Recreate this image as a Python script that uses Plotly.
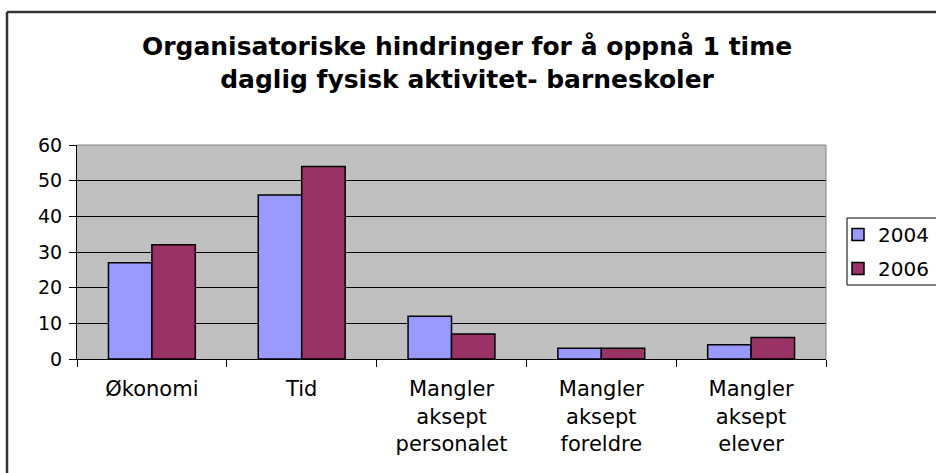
import plotly.graph_objects as go

categories = ["Økonomi", "Tid", "Mangler<br>aksept<br>personalet", "Mangler<br>aksept<br>foreldre", "Mangler<br>aksept<br>elever"]
values_2004 = [27, 46, 12, 3, 4]
values_2006 = [32, 54, 7, 3, 6]
series_names = ["2004", "2006"]
y_ticks = [0, 10, 20, 30, 40, 50, 60]

W, H = 936, 473
L, R, T, B = 77, 826, 145, 359
pw, ph = R - L, B - T

def px(x):
    return (x - L) / pw

def py(y):
    return (B - y) / ph

font = "DejaVu Sans, Liberation Sans, Arial, sans-serif"

fig = go.Figure()
fig.add_trace(go.Bar(x=categories, y=values_2004, name=series_names[0], legendgroup="a",
                     marker=dict(color="#9999FF", line=dict(color="black", width=1.5))))
fig.add_trace(go.Bar(x=categories, y=values_2006, name=series_names[1], legendgroup="b",
                     marker=dict(color="#993366", line=dict(color="black", width=1.5))))

fig.update_layout(
    width=W, height=H,
    margin=dict(l=L, r=W - R, t=T, b=H - B, pad=0, autoexpand=False),
    paper_bgcolor="white",
    plot_bgcolor="#C0C0C0",
    font=dict(family=font, color="black", size=19),
    bargap=0.42, bargroupgap=0,
    title=dict(
        text="<b>Organisatoriske hindringer for å oppnå 1 time<br>daglig fysisk aktivitet- barneskoler</b>",
        x=0.499, xanchor="center", xref="container",
        y=1 - 55 / H, yanchor="top", yref="container",
        font=dict(family=font, size=25, color="black"),
    ),
    legend=dict(
        x=px(838), xanchor="left", y=py(215), yanchor="top",
        font=dict(family=font, size=20, color="black"),
        bgcolor="rgba(0,0,0,0)", borderwidth=0,
        tracegroupgap=5, traceorder="grouped",
    ),
    xaxis=dict(
        showgrid=False, showline=True, linecolor="black", linewidth=1,
        ticks="outside", ticklen=7, tickcolor="black", tickson="boundaries",
        tickfont=dict(size=21), ticklabelstandoff=11, mirror=False,
    ),
    yaxis=dict(
        range=[0, 60], tickvals=y_ticks, showgrid=True, gridcolor="black", gridwidth=1,
        showline=True, linecolor="black", linewidth=1,
        ticks="outside", ticklen=7, tickcolor="black", tickfont=dict(size=19),
        ticklabelstandoff=3, zeroline=False,
    ),
    shapes=[
        dict(type="line", xref="paper", yref="paper", x0=1, x1=1, y0=0, y1=1,
             line=dict(color="#808080", width=1)),
        dict(type="line", xref="paper", yref="paper", x0=0, x1=1, y0=1, y1=1,
             line=dict(color="#808080", width=1)),
        dict(type="line", xref="paper", yref="paper", x0=px(7), x1=px(W + 5), y0=py(12), y1=py(12),
             line=dict(color="#333333", width=2.5)),
        dict(type="line", xref="paper", yref="paper", x0=px(7), x1=px(7), y0=py(12), y1=py(H + 5),
             line=dict(color="#333333", width=2.5)),
        dict(type="rect", xref="paper", yref="paper", x0=px(847), x1=px(W + 20), y0=py(218), y1=py(285),
             line=dict(color="black", width=1)),
    ],
)

fig.write_html("out.html", config={"displayModeBar": False},
               post_script="document.body.style.margin='0';document.body.style.overflow='hidden';")
